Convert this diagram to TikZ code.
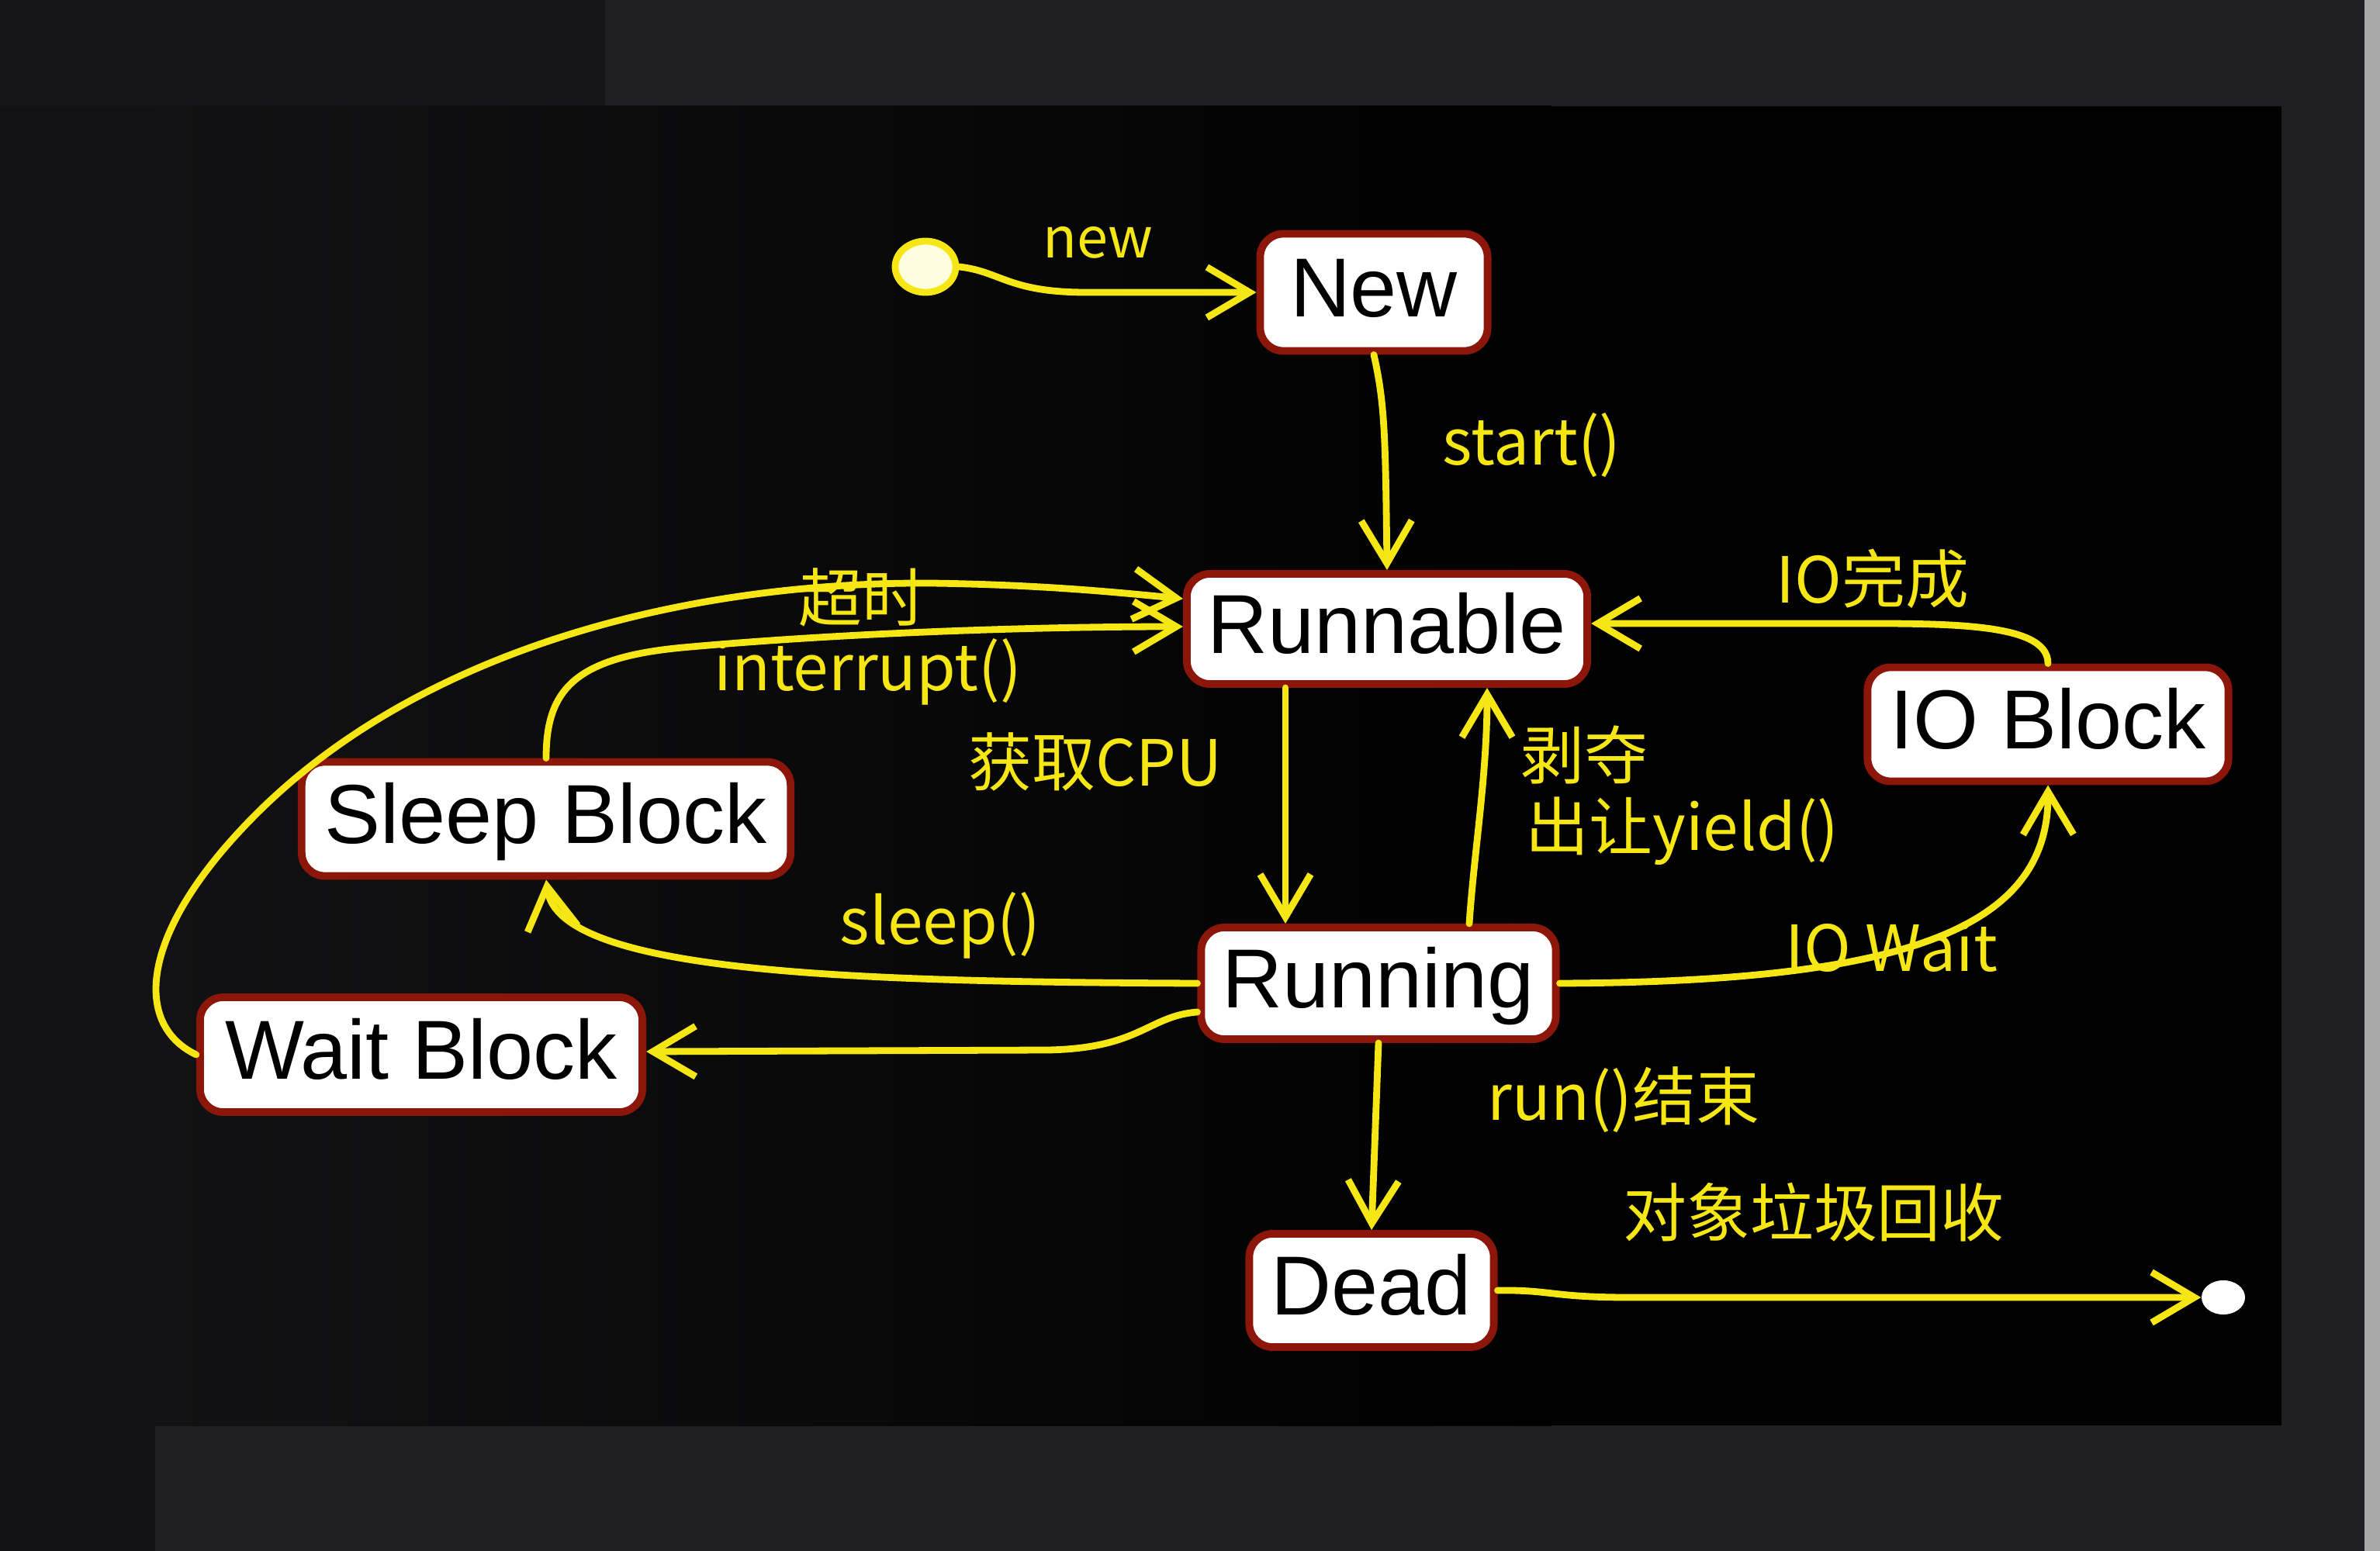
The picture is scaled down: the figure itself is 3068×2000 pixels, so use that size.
\documentclass[tikz,border=0pt]{standalone}
\usepackage{fontspec}
\setmainfont{Liberation Sans}
\newfontfamily\cjk{Noto Sans CJK SC}
\usetikzlibrary{arrows.meta,calc,shapes.geometric}
\definecolor{ylw}{RGB}{245,230,20}
\definecolor{brd}{RGB}{140,22,10}
\definecolor{bgg}{RGB}{31,31,33}
\definecolor{bgd}{RGB}{18,18,20}
\definecolor{bgt}{RGB}{22,22,24}
\definecolor{strip}{RGB}{168,168,168}
\begin{document}
\begin{tikzpicture}[x=0.01cm,y=-0.01cm,
  state/.style={draw=brd,line width=2.8pt,fill=white,rounded corners=0.3cm,inner sep=0pt,
     font=\fontsize{30.7}{36}\selectfont,text height=0.77cm,text depth=0.15cm,text=black},
  lbl/.style={text=ylw,font=\cjk\fontsize{23.3}{28}\selectfont,inner sep=0pt},
  arr/.style={draw=ylw,line width=2.5pt,line cap=round,-{Straight Barb[length=0.55cm,width=0.65cm]}},
]
% background
\useasboundingbox (0,0) rectangle (3068,2000);
\fill[bgg] (0,0) rectangle (3068,2000);
\fill[bgt] (0,0) rectangle (780,137);
\fill[bgd] (0,137) rectangle (200,2000);
\shade[left color=bgd,right color=black] (200,137) rectangle (2000,1838);
\fill[black] (1999,137) rectangle (2941,1838);
\fill[strip] (3048,0) rectangle (3068,2000);

% states
\node[ellipse,draw=ylw,fill=yellow!12!white,line width=2.5pt,minimum width=0.78cm,minimum height=0.66cm,inner sep=0pt] (init) at (1193,344) {};
\node[state,minimum width=2.93cm,minimum height=1.51cm] (new) at (1771,377) {New};
\node[state,minimum width=5.16cm,minimum height=1.42cm] (runnable) at (1788,811) {Runnable};
\node[state,minimum width=4.65cm,minimum height=1.47cm] (iob) at (2640,934) {IO Block};
\node[state,minimum width=6.30cm,minimum height=1.47cm] (sleep) at (704,1056) {Sleep Block};
\node[state,minimum width=4.57cm,minimum height=1.44cm] (running) at (1777,1268) {Running};
\node[state,minimum width=5.70cm,minimum height=1.48cm] (wait) at (543,1360) {Wait Block};
\node[state,minimum width=3.15cm,minimum height=1.46cm] (dead) at (1768,1664) {Dead};
\node[ellipse,fill=white,minimum width=0.56cm,minimum height=0.44cm,inner sep=0pt] (fin) at (2866,1673) {};

% transitions
\draw[arr] (init.east) .. controls (1290,350) and (1300,377) .. (1400,377) -- (new.west);
\draw[arr] (new.south) .. controls (1785,520) and (1786,560) .. (runnable.north);
\draw[arr] ($(runnable.south)+(-131,0)$) -- ($(running.north)+(-120,0)$);
\draw[arr] ($(running.north)+(117,0)$) .. controls (1900,1100) and (1917,1000) .. ($(runnable.south)+(129,0)$);
\draw[arr] (iob.north) .. controls (2640,800) and (2500,804) .. (2350,804) -- ($(runnable.east)+(0,-7)$);
\draw[arr] (running.east) .. controls (2450,1266) and (2641,1200) .. (iob.south);
\draw[arr] (running.west) .. controls (1100,1266) and (720,1255) .. (sleep.south);
\draw[arr] ($(running.west)+(0,37)$) .. controls (1480,1310) and (1470,1352) .. (1350,1354) -- ($(wait.east)+(0,-4)$);
\draw[arr] (sleep.north) .. controls (704,890) and (740,848) .. (880,835) .. controls (1100,815) and (1350,808) .. ($(runnable.west)+(0,-3)$);
\draw[arr] (wait.west) .. controls (170,1320) and (180,1200) .. (330,1050) .. controls (550,830) and (900,750) .. (1200,752) .. controls (1350,754) and (1450,765) .. ($(runnable.west)+(0,-39)$);
\draw[arr] (running.south) -- (dead.north);
\draw[arr] (dead.east) .. controls (2000,1663) and (2000,1673) .. (2100,1673) -- (fin.west);

% labels
\node[lbl,anchor=base west,font=\cjk\fontsize{20.5}{24}\selectfont] (lnew) at (1344,333) {new};
\node[lbl,anchor=base west] (lstart) at (1859,599) {start()};
\node[lbl] (ltimeout) at (1111,770) {超时};
\node[lbl,anchor=base west] (lint) at (920,890) {interrupt()};
\node[lbl,anchor=base west] (lcpu) at (1248,1013) {获取CPU};
\node[lbl] (lrob) at (2042,973) {剥夺};
\node[lbl,anchor=base west] (lyield) at (1966,1096) {出让yield()};
\node[lbl,anchor=base west] (liodone) at (2289,777) {IO完成};
\node[lbl,anchor=base west] (lsleep) at (1082,1217) {sleep()};
\node[lbl,anchor=base west] (liowait) at (2301,1252) {IO Wait};
\node[lbl,anchor=base west] (lrun) at (1917,1444) {run()结束};
\node[lbl] (lgc) at (2338,1563) {对象垃圾回收};
\end{tikzpicture}
\end{document}
